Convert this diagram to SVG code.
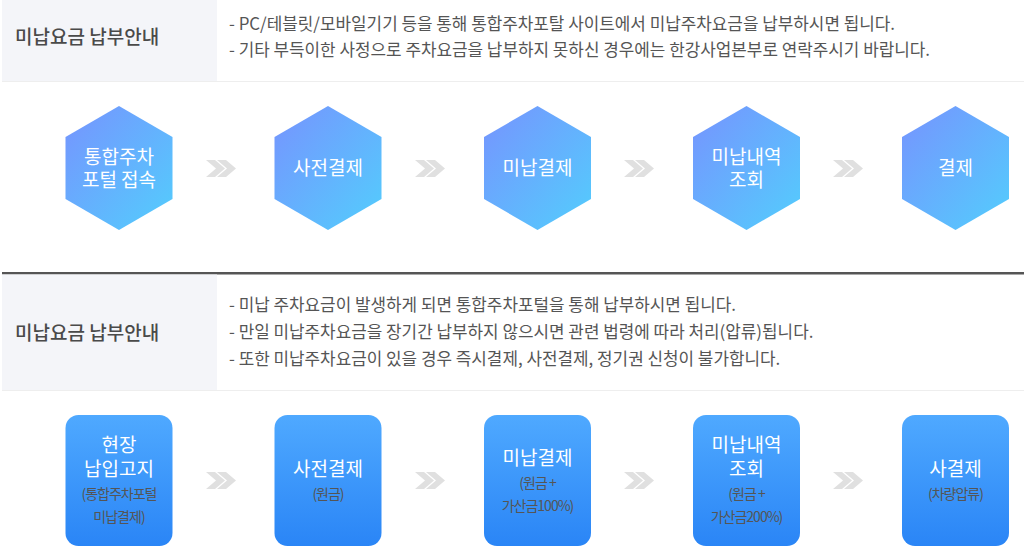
<svg xmlns="http://www.w3.org/2000/svg" width="1024" height="556" viewBox="0 0 1024 556">
<style>
text{font-family:"Noto Sans CJK KR","Noto Sans",sans-serif}
.head{font-size:19px;font-weight:500;fill:#4a4a4a}
.body{font-size:16.9px;fill:#555}
.w{font-size:19px;fill:#fff;text-anchor:middle}
.s{font-size:14px;fill:#555;text-anchor:middle;letter-spacing:-1px}
.panel{fill:#f4f5f9}
.rule{stroke:#eeeeee;stroke-width:1}
</style>
<defs>
<linearGradient id="hexg" x1="0" y1="0" x2="1" y2="1"><stop offset="0.1" stop-color="#7399fe"/><stop offset="0.9" stop-color="#56c8fd"/></linearGradient>
<linearGradient id="boxg" x1="0" y1="0" x2="0" y2="1"><stop offset="0" stop-color="#4fa9ff"/><stop offset="1" stop-color="#2a85f6"/></linearGradient>
<polygon id="hex" points="0,-62 53.500,-31 53.500,31 0,62 -53.500,31 -53.500,-31" fill="url(#hexg)"/>
<rect id="box" x="-53.500" y="0" width="107" height="131" rx="13" fill="url(#boxg)"/>
<path id="chev" d="M0,0H9L19,8.500 9,17H0L10,8.500ZM11,0H20L30,8.500 20,17H11L21,8.500Z" fill="#e0e0e0"/>
</defs>
<rect width="1024" height="556" fill="#fff"/>
<g id="section1">
<rect class="panel" x="2" y="0" width="215" height="81"/>
<line class="rule" x1="2" y1="81.500" x2="1024" y2="81.500"/>
<text class="head" x="15" y="44">미납요금 납부안내</text>
<text class="body" x="229" y="30">- PC/테블릿/모바일기기 등을 통해 통합주차포탈 사이트에서 미납주차요금을 납부하시면 됩니다.</text>
<text class="body" x="229" y="56">- 기타 부득이한 사정으로 주차요금을 납부하지 못하신 경우에는 한강사업본부로 연락주시기 바랍니다.</text>
</g>
<g id="connectors">
<use href="#chev" x="206" y="160"/><use href="#chev" x="415" y="160"/><use href="#chev" x="624" y="160"/><use href="#chev" x="833" y="160"/>
<use href="#chev" x="206" y="472"/><use href="#chev" x="415" y="472"/><use href="#chev" x="624" y="472"/><use href="#chev" x="833" y="472"/>
</g>
<g id="hex1"><use href="#hex" x="119" y="168"/><text class="w" x="119" y="164">통합주차</text><text class="w" x="119" y="187">포털 접속</text></g>
<g id="hex2"><use href="#hex" x="328" y="168"/><text class="w" x="328" y="175">사전결제</text></g>
<g id="hex3"><use href="#hex" x="537.500" y="168"/><text class="w" x="537.500" y="175">미납결제</text></g>
<g id="hex4"><use href="#hex" x="746.500" y="168"/><text class="w" x="746.500" y="164">미납내역</text><text class="w" x="746.500" y="187">조회</text></g>
<g id="hex5"><use href="#hex" x="955.500" y="168"/><text class="w" x="955.500" y="175">결제</text></g>
<rect id="divider" x="2" y="272" width="1022" height="2.500" fill="#555"/>
<g id="section2">
<rect class="panel" x="2" y="274.500" width="215" height="115.500"/>
<line class="rule" x1="2" y1="390.500" x2="1024" y2="390.500"/>
<text class="head" x="15" y="340">미납요금 납부안내</text>
<text class="body" x="229" y="311">- 미납 주차요금이 발생하게 되면 통합주차포털을 통해 납부하시면 됩니다.</text>
<text class="body" x="229" y="338">- 만일 미납주차요금을 장기간 납부하지 않으시면 관련 법령에 따라 처리(압류)됩니다.</text>
<text class="body" x="229" y="365">- 또한 미납주차요금이 있을 경우 즉시결제, 사전결제, 정기권 신청이 불가합니다.</text>
</g>
<g id="box1"><use href="#box" x="119" y="415"/><text class="w" x="119" y="452">현장</text><text class="w" x="119" y="476">납입고지</text><text class="s" x="119" y="499">(통합주차포털</text><text class="s" x="119" y="522">미납결제)</text></g>
<g id="box2"><use href="#box" x="328" y="415"/><text class="w" x="328" y="476">사전결제</text><text class="s" x="328" y="499">(원금)</text></g>
<g id="box3"><use href="#box" x="537.500" y="415"/><text class="w" x="537.500" y="465">미납결제</text><text class="s" x="537.500" y="488">(원금 +</text><text class="s" x="537.500" y="511">가산금100%)</text></g>
<g id="box4"><use href="#box" x="746.500" y="415"/><text class="w" x="746.500" y="452">미납내역</text><text class="w" x="746.500" y="476">조회</text><text class="s" x="746.500" y="499">(원금 +</text><text class="s" x="746.500" y="522">가산금200%)</text></g>
<g id="box5"><use href="#box" x="955.500" y="415"/><text class="w" x="955.500" y="476">사결제</text><text class="s" x="955.500" y="499">(차량압류)</text></g>
</svg>
